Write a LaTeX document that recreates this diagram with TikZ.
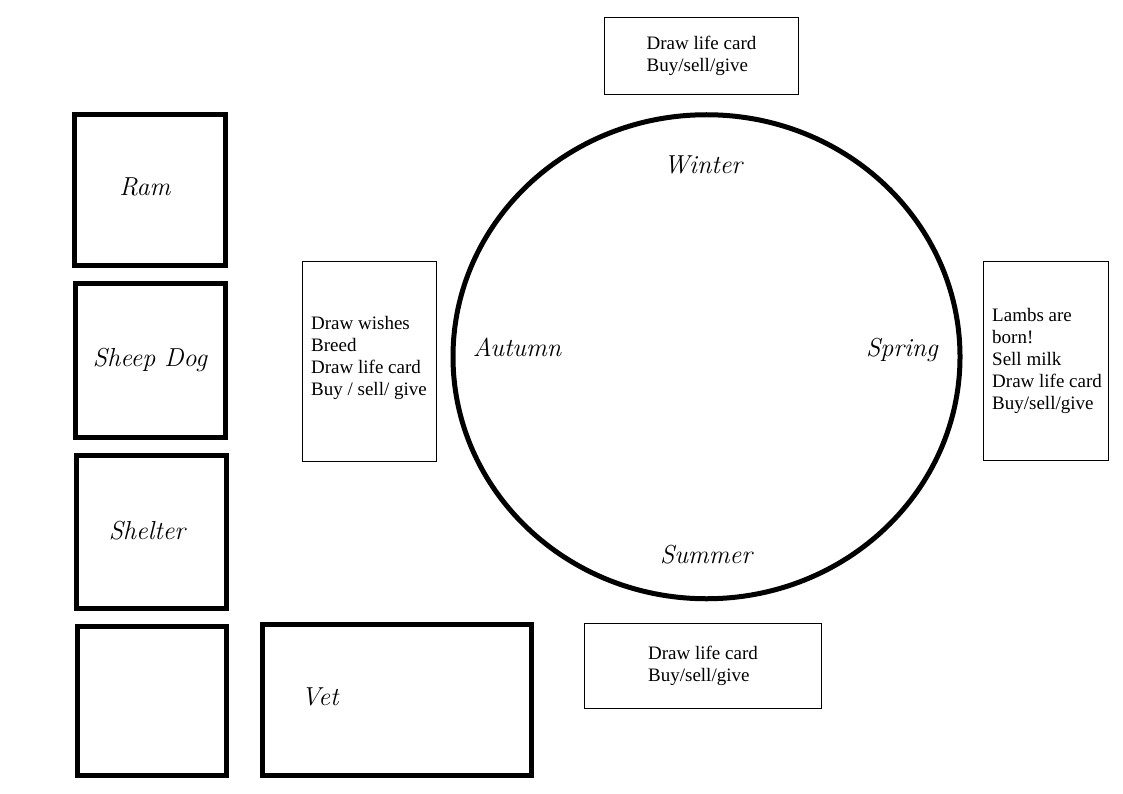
\documentclass[tikz,border=0pt]{standalone}
\usepackage{fontspec}
\newfontfamily\cardfont{Liberation Serif}
\usetikzlibrary{shapes.geometric}
\tikzset{
  pen/.style={draw, line width=5pt, rectangle, inner sep=0pt},
  card/.style={draw, line width=1.2pt, rectangle, inner sep=0pt, align=left,
    font=\cardfont\fontsize{19}{22}\selectfont},
  cardtext/.style={inner sep=0pt, align=left, font=\cardfont\fontsize{19}{22}\selectfont},
  season/.style={inner sep=0pt, font=\itshape\fontsize{26}{30}\selectfont},
}
\begin{document}
\begin{tikzpicture}[x=1pt,y=-1pt]
\useasboundingbox (0,0) rectangle (1123,794);
% left column of thick boxes
\node[pen, minimum width=151, minimum height=151] (ram) at (150,190) {};
\node[pen, minimum width=150, minimum height=154] (dog) at (150.5,360.5) {};
\node[pen, minimum width=150, minimum height=153] (shelter) at (151.5,532) {};
\node[pen, minimum width=149, minimum height=149] (empty) at (152,701) {};
\node[pen, minimum width=269, minimum height=151] (vet) at (397,700) {};
\node[season] (ramt) at (145,187) {Ram};
\node[season] (dogt) at (150,360) {Sheep Dog};
\node[season] (sheltert) at (147,531) {Shelter};
\node[season] (vett) at (320,697) {Vet};
% wheel of seasons
\node[ellipse, draw, line width=5pt, inner sep=0pt, minimum width=507, minimum height=484] (wheel) at (706.5,356.75) {};
\node[season] (winter) at (703,165) {Winter};
\node[season] (spring) at (902,350) {Spring};
\node[season] (autumn) at (517,347) {Autumn};
\node[season] (summer) at (706,555) {Summer};
% cards
\node[card, minimum width=194, minimum height=77] (topcard) at (701.5,56) {Draw life card\\Buy/sell/give};
\node[card, minimum width=237, minimum height=85] (botcard) at (703,666) {Draw life card\\Buy/sell/give};
\node[card, minimum width=134, minimum height=200] (leftcard) at (369.5,361.5) {};
\node[card, minimum width=125, minimum height=199] (rightcard) at (1046,361) {};
\node[cardtext, anchor=west] (lefttext) at (311,358) {Draw wishes\\Breed\\Draw life card\\Buy / sell/ give};
\node[cardtext, anchor=west] (righttext) at (992,361) {Lambs are\\born!\\Sell milk\\Draw life card\\Buy/sell/give};
\end{tikzpicture}
\end{document}
